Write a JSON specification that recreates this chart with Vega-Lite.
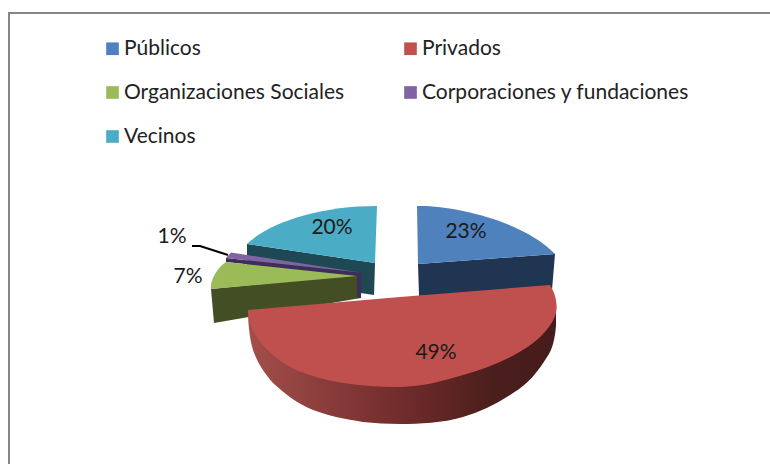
{
  "$schema": "https://vega.github.io/schema/vega-lite/v6.json",
  "width": 762,
  "height": 452,
  "autosize": "none",
  "padding": {"left": 9, "top": 13, "right": 0, "bottom": 0},
  "background": "white",
  "view": {"stroke": "#868686", "strokeWidth": 2, "fill": "white"},
  "config": {"text": {"font": "Lato"}},
  "data": {"values": [
    {"category": "Públicos", "share": 0.23},
    {"category": "Vecinos", "share": 0.20},
    {"category": "Organizaciones Sociales", "share": 0.07},
    {"category": "Corporaciones y fundaciones", "share": 0.01},
    {"category": "Privados", "share": 0.49}
  ]},
  "resolve": {"scale": {"color": "independent", "shape": "independent"}},
  "layer": [
    {
      "mark": {"type": "square", "filled": true, "opacity": 1, "size": 0, "strokeWidth": 0},
      "encoding": {
        "color": {"field": "category", "type": "nominal",
          "scale": {
            "domain": ["Públicos", "Privados", "Organizaciones Sociales", "Corporaciones y fundaciones", "Vecinos"],
            "range": ["#4F81BD", "#C0504D", "#9BBB59", "#8064A2", "#4BACC6"]},
          "legend": {
            "title": null, "orient": "none", "legendX": 93, "legendY": 25, "columns": 2, "direction": "horizontal",
            "symbolType": "square", "symbolSize": 160, "symbolStrokeWidth": 0, "symbolOpacity": 1,
            "labelFont": "Lato", "labelFontSize": 21, "labelColor": "#222222", "labelOffset": 1,
            "labelLimit": 300, "rowPadding": 22, "columnPadding": 55, "gridAlign": "each", "padding": 0
          }}
      }
    },
    {
      "transform": [{"filter": "datum.category !== 'Privados'"}],
      "mark": {"type": "point", "filled": true, "opacity": 1, "size": 4, "strokeWidth": 0},
      "encoding": {
        "color": {"field": "category", "type": "nominal", "legend": null, "scale": {
          "domain": ["Públicos", "Vecinos", "Organizaciones Sociales", "Corporaciones y fundaciones"],
          "range": ["#1F3552", "#1E4854", "#434E24", "#3E2D5A"]}},
        "shape": {"field": "category", "type": "nominal", "legend": null, "scale": {
          "domain": ["Públicos", "Vecinos", "Organizaciones Sociales", "Corporaciones y fundaciones"],
          "range": [
            "M28,25 L165,15 L162,51 L29,57 Z",
            "M-143,5 L-15,24 L-16,56 L-143,37 Z",
            "M-179,50 L-30,35 L-29,59 L-176,84 Z",
            "M-164,19 L-30,33.5 L-28.5,34 L-29,59 L-33,59 L-33,37 L-164,23 Z"
          ]}}
      }
    },
    {
      "transform": [{"filter": "datum.category === 'Privados'"}],
      "mark": {"type": "point", "filled": true, "opacity": 1, "size": 4, "strokeWidth": 0,
        "shape": "M166,71 L166,86 C165,101 162,111 157,118 C148,133 137,146 123,154 C107,165 90,173 73,178 C52,184 30,185 10,185 C-3,185 -15,184 -27,183 C-45,180 -61,177 -77,171 C-92,165 -105,155 -117,144 C-126,134 -133,123 -137,111 C-140,101 -142,86 -142,71 Z",
        "fill": {"gradient": "linear", "x1": 0, "y1": 0, "x2": 1, "y2": 0, "stops": [
          {"offset": 0, "color": "#A44E4B"},
          {"offset": 0.5, "color": "#702C2B"},
          {"offset": 0.8, "color": "#4A1E1C"},
          {"offset": 1, "color": "#451C1B"}
        ]}},
      "encoding": {}
    },
    {
      "mark": {"type": "point", "filled": true, "opacity": 1, "size": 4, "strokeWidth": 0},
      "encoding": {
        "color": {"field": "category", "type": "nominal", "legend": null,
          "scale": {
            "domain": ["Públicos", "Privados", "Organizaciones Sociales", "Corporaciones y fundaciones", "Vecinos"],
            "range": ["#4F81BD", "#C0504D", "#9BBB59", "#8064A2", "#4BACC6"]}},
        "shape": {"field": "category", "type": "nominal", "legend": null, "scale": {
          "domain": ["Públicos", "Privados", "Organizaciones Sociales", "Corporaciones y fundaciones", "Vecinos"],
          "range": [
            "M27,-33 C65,-34 135,-17 165,15 L28,25 Z",
            "M160,46 C165,54 168,64 166,74 C158,101 120,123 73,136 C50,143 30,148 7,148 C-30,148 -65,143 -94,131 C-115,121 -134,103 -140,84 L-142,71 L10,58 Z",
            "M-33,37 L-164,23 C-173,29 -180,41 -179,50 Z",
            "M-159,13.5 L-30,33.5 L-164,19 Z",
            "M-143,5 C-120,-17 -70,-33 -13,-33 L-15,24 Z"
          ]}}
      }
    },
    {
      "transform": [{"filter": "datum.category === 'Corporaciones y fundaciones'"}],
      "mark": {"type": "point", "filled": false, "opacity": 1, "size": 4, "stroke": "#000000", "strokeWidth": 2,
        "shape": "M-198,7 L-190,7 L-162,16"},
      "encoding": {}
    },
    {
      "transform": [{"filter": "datum.category === 'Públicos'"}],
      "mark": {"type": "text", "font": "Lato", "fontSize": 21, "color": "#1a1a1a", "dx": 76, "dy": -7, "baseline": "middle"},
      "encoding": {"text": {"field": "share", "type": "quantitative", "format": ".0%"}}
    },
    {
      "transform": [{"filter": "datum.category === 'Privados'"}],
      "mark": {"type": "text", "font": "Lato", "fontSize": 21, "color": "#1a1a1a", "dx": 46, "dy": 114, "baseline": "middle"},
      "encoding": {"text": {"field": "share", "type": "quantitative", "format": ".0%"}}
    },
    {
      "transform": [{"filter": "datum.category === 'Vecinos'"}],
      "mark": {"type": "text", "font": "Lato", "fontSize": 21, "color": "#1a1a1a", "dx": -58, "dy": -11, "baseline": "middle"},
      "encoding": {"text": {"field": "share", "type": "quantitative", "format": ".0%"}}
    },
    {
      "transform": [{"filter": "datum.category === 'Organizaciones Sociales'"}],
      "mark": {"type": "text", "font": "Lato", "fontSize": 21, "color": "#1a1a1a", "dx": -202, "dy": 38, "baseline": "middle"},
      "encoding": {"text": {"field": "share", "type": "quantitative", "format": ".0%"}}
    },
    {
      "transform": [{"filter": "datum.category === 'Corporaciones y fundaciones'"}],
      "mark": {"type": "text", "font": "Lato", "fontSize": 21, "color": "#1a1a1a", "dx": -218, "dy": -2, "baseline": "middle"},
      "encoding": {"text": {"field": "share", "type": "quantitative", "format": ".0%"}}
    }
  ]
}
